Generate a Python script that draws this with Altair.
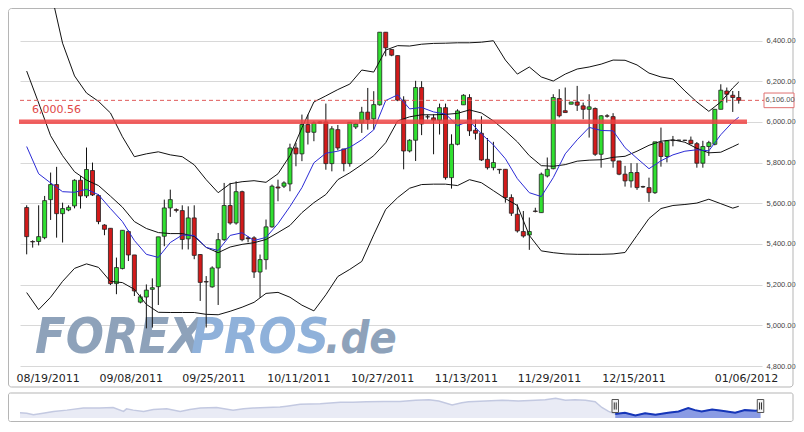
import json
import altair as alt
import pandas as pd

# ---------------- candle data (one value per trading day) ----------------
opens = [5579, 5412, 5412, 5431, 5618, 5692, 5549, 5567, 5587, 5713,
         5636, 5761, 5638, 5493, 5477, 5205, 5279, 5461, 5346, 5114,
         5139, 5177, 5190, 5438, 5577, 5569, 5564, 5425, 5528, 5348,
         5215, 5189, 5282, 5421, 5589, 5503, 5657, 5430, 5430, 5262,
         5323, 5484, 5680, 5684, 5695, 5872, 5843, 5987, 5949, 6000,
         6000, 5795, 5962, 5867, 5795, 5975, 5995, 6048, 6015, 6084,
         6441, 6356, 6326, 6107, 5857, 5910, 6169, 6025, 6020, 6008,
         6070, 5726, 5890, 6084, 6120, 5959, 5944, 5816, 5775, 5767,
         5767, 5628, 5546, 5461, 5444, 5562, 5554, 5734, 5770, 6115,
         6055, 6087, 6098, 6079, 6062, 6066, 5841, 6030, 6026, 5808,
         5743, 5710, 5751, 5682, 5677, 5652, 5898, 5830, 5910, 5910,
         5910, 5910, 5893, 5797, 5879, 5890, 6062, 6152, 6131, 6120]
closes = [5436, 5410, 5436, 5613, 5692, 5549, 5574, 5580, 5713, 5636,
          5766, 5641, 5510, 5472, 5205, 5284, 5467, 5346, 5169, 5140,
          5173, 5185, 5435, 5577, 5618, 5565, 5422, 5528, 5344, 5211,
          5213, 5282, 5421, 5589, 5503, 5657, 5421, 5426, 5262, 5323,
          5484, 5684, 5675, 5700, 5872, 5843, 5987, 5949, 5995, 5994,
          5795, 5966, 5872, 5795, 5998, 5990, 6048, 6011, 6085, 6441,
          6364, 6328, 6107, 5857, 5910, 6169, 5990, 6025, 6008, 6070,
          5726, 5890, 6054, 6131, 5956, 5944, 5813, 5775, 5800, 5765,
          5628, 5551, 5464, 5439, 5461, 5560, 5743, 5767, 6120, 6030,
          6046, 6098, 6082, 6062, 6074, 5841, 6030, 6028, 5808, 5743,
          5710, 5751, 5677, 5680, 5652, 5902, 5830, 5907, 5908, 5910,
          5909, 5893, 5797, 5879, 5898, 6062, 6156, 6136, 6120, 6106]
highs = [5590, 5418, 5590, 5636, 5751, 5779, 5603, 5590, 5718, 5734,
         5874, 5800, 5644, 5497, 5477, 5333, 5467, 5467, 5346, 5152,
         5201, 5231, 5435, 5618, 5667, 5575, 5590, 5585, 5590, 5350,
         5242, 5290, 5454, 5700, 5700, 5708, 5662, 5438, 5438, 5348,
         5520, 5692, 5716, 5708, 5893, 5897, 6036, 6036, 6003, 6003,
         6090, 5979, 5985, 5867, 5998, 5995, 6074, 6167, 6151, 6441,
         6441, 6356, 6326, 6126, 5915, 6202, 6200, 6035, 6038, 6090,
         6090, 5939, 6062, 6136, 6136, 6011, 6028, 5921, 5902, 5767,
         5767, 5644, 5595, 5562, 5530, 5578, 5751, 5825, 6136, 6161,
         6169, 6098, 6177, 6095, 6136, 6071, 6033, 6038, 6043, 5808,
         5784, 5797, 5797, 5686, 5726, 5902, 5972, 5907, 5931, 5912,
         5912, 5928, 5901, 5907, 5907, 6062, 6185, 6169, 6152, 6152]
lows = [5349, 5382, 5393, 5423, 5518, 5431, 5407, 5561, 5575, 5574,
        5626, 5636, 5497, 5443, 5198, 5153, 5275, 5316, 5144, 5108,
        4985, 4989, 5100, 5389, 5533, 5555, 5373, 5373, 5325, 5120,
        4989, 5185, 5100, 5415, 5495, 5495, 5413, 5408, 5233, 5136,
        5274, 5480, 5610, 5675, 5659, 5782, 5807, 5889, 5905, 5990,
        5765, 5757, 5860, 5757, 5780, 5965, 5946, 5962, 5962, 6080,
        6323, 6323, 6102, 5767, 5850, 5808, 5935, 6012, 5841, 5938,
        5716, 5672, 5885, 6084, 5931, 5913, 5808, 5766, 5762, 5745,
        5603, 5538, 5456, 5431, 5371, 5555, 5554, 5727, 5767, 6022,
        6046, 6087, 6054, 6013, 5923, 5833, 5775, 6021, 5775, 5738,
        5682, 5677, 5666, 5676, 5607, 5646, 5780, 5801, 5880, 5908,
        5907, 5890, 5775, 5775, 5833, 5885, 6062, 6095, 6049, 6090]

# ---------------- indicator lines (read every second day) ----------------
band_idx = list(range(0, 120, 2)) + [119]
upper = [6843, 6745, 6647, 6387, 6226, 6142, 6101, 6044, 5927, 5829,
         5843, 5853, 5838, 5829, 5789, 5716, 5652, 5696, 5706, 5711,
         5703, 5745, 5834, 5971, 6098, 6128, 6159, 6186, 6255, 6245,
         6353, 6375, 6373, 6382, 6386, 6387, 6389, 6389, 6392, 6399,
         6304, 6235, 6270, 6221, 6201, 6235, 6260, 6270, 6284, 6304,
         6303, 6280, 6240, 6221, 6211, 6152, 6098, 6052, 6098, 6167, 6196]
middle = [6250, 6093, 5932, 5834, 5755, 5714, 5687, 5635, 5581, 5510,
          5476, 5456, 5451, 5451, 5437, 5383, 5357, 5385, 5398, 5406,
          5422, 5456, 5491, 5554, 5603, 5643, 5716, 5750, 5790, 5834,
          5898, 6005, 6025, 6035, 6035, 6037, 6042, 6059, 6044, 6005,
          5956, 5902, 5834, 5785, 5782, 5790, 5807, 5812, 5814, 5826,
          5831, 5856, 5885, 5905, 5912, 5900, 5870, 5848, 5851, 5878, 5892]
lower = [5161, 5077, 5138, 5216, 5280, 5302, 5285, 5216, 5210, 5177,
         5103, 5064, 5063, 5063, 5063, 5054, 5052, 5069, 5089, 5113,
         5157, 5162, 5138, 5099, 5071, 5150, 5240, 5275, 5314, 5445,
         5570, 5628, 5674, 5692, 5694, 5694, 5687, 5716, 5701, 5662,
         5623, 5589, 5442, 5366, 5357, 5351, 5349, 5349, 5349, 5351,
         5358, 5442, 5525, 5574, 5589, 5594, 5601, 5620, 5598, 5576, 5585]
fast_ma = [5879, 5745, 5700, 5657, 5654, 5669, 5642, 5574, 5510, 5417,
           5349, 5334, 5407, 5444, 5442, 5383, 5368, 5442, 5455, 5417,
           5432, 5500, 5584, 5677, 5799, 5846, 5856, 5875, 5912, 5961,
           6105, 6133, 6064, 6071, 6049, 6039, 5981, 6005, 5941, 5887,
           5819, 5721, 5652, 5633, 5726, 5843, 5912, 5973, 5958, 5956,
           5873, 5821, 5770, 5809, 5838, 5856, 5863, 5858, 5937, 6000, 6023]

# ---------------- axis labels / levels ----------------
tick_pos = [3.5, 17.4, 31.2, 45.4, 59.4, 73.4, 87.3, 101.4, 120.2]
tick_labels = ["08/19/2011", "09/08/2011", "09/25/2011", "10/11/2011", "10/27/2011",
               "11/13/2011", "11/29/2011", "12/15/2011", "01/06/2012"]
y_ticks = [4800, 5000, 5200, 5400, 5600, 5800, 6000, 6200, 6400]
level = 6000.56
last_close = 6106.00

# ---------------- navigator (long history) ----------------
nav_t = [0, 0.9, 1.8, 3.1, 4.5, 6.3, 8.5, 10.7, 12.5, 13.9, 14.3, 15.2, 16.6, 17.9,
         19.7, 21.5, 22.8, 24.2, 26.4, 28.6, 30.0, 31.3, 33.1, 34.9, 35.8, 37.6,
         40.3, 42.1, 43.0, 44.7, 46.5, 48.8, 51.0, 53.1, 54.9, 56.2, 58.0, 59.3,
         60.2, 62.5, 64.7, 66.9, 69.2, 70.5, 71.9, 73.2, 74.5, 75.9, 77.2, 78.1,
         79.0, 79.9, 81.2, 82.6, 83.9, 85.3, 87.0, 88.4, 89.7, 90.6, 91.5, 92.9,
         94.2, 96.0, 97.3, 98.7, 99.4]
nav_v = [5595, 5506, 5238, 5506, 5819, 6042, 6400, 6400, 6489, 5819, 6266, 6042,
         5819, 6132, 6266, 5819, 6132, 6400, 6489, 6042, 6266, 6400, 6489, 6579,
         6713, 7026, 7115, 7294, 7383, 7383, 7473, 7518, 7518, 7741, 7830, 7607,
         6936, 7294, 7473, 7607, 7741, 7607, 7741, 7830, 8054, 7741, 7830, 7741,
         7473, 6489, 5819, 5372, 5595, 5148, 5506, 5238, 5595, 5819, 6400, 6042,
         5819, 6132, 5953, 5595, 6042, 5953, 6042]
sel_start = 79.9
sel_end = 99.4

# ---------------- frames ----------------
candles = pd.DataFrame({"i": list(range(len(opens))), "open": opens, "high": highs,
                        "low": lows, "close": closes})
candles["dir"] = ["up" if c >= o else "down" for o, c in zip(opens, closes)]
lines = pd.DataFrame({"i": band_idx, "upper": upper, "middle": middle,
                      "lower": lower, "ma": fast_ma})
lvl = pd.DataFrame({"v": [level], "label": [f"{level:,.2f}"]})
last = pd.DataFrame({"v": [last_close], "top": [last_close + 36], "bot": [last_close - 36],
                     "label": [f"{last_close:,.2f}"]})
nav = pd.DataFrame({"t": nav_t, "v": nav_v})
nav_sel = nav[nav["t"] >= sel_start]
handles = pd.DataFrame({"t": [sel_start, sel_end]})
one = pd.DataFrame({"a": [0]})

X = alt.Scale(domain=[-0.28, 122.05], nice=False, zero=False)
Y = alt.Scale(domain=[4800, 6560], nice=False, zero=False)

label_expr = f"{json.dumps(tick_labels)}[indexof({json.dumps(tick_pos)}, datum.value)]"
xax = alt.Axis(values=tick_pos, labelExpr=label_expr, grid=False, ticks=False, tickSize=0,
               domain=False, labelFont="DejaVu Sans", labelFontSize=11, labelColor="#222",
               labelPadding=6, labelFlush=False, labelOverlap=False, labelBound=False, title=None)
yax = alt.Axis(orient="right", values=y_ticks, format=",.2f", grid=True, gridColor="#d8d8d8",
               gridWidth=1, ticks=False, tickSize=0, domain=False, labelFont="Liberation Sans",
               labelFontSize=7.5, labelColor="#444", labelPadding=4, labelAlign="left",
               labelBound=False, labelFlush=False, labelOverlap=False, title=None)


def XI():
    return alt.X("i:Q", scale=X, axis=xax, title=None)


def YF(field):
    return alt.Y(field, scale=Y, axis=yax, title=None)


main_box = alt.Chart(one).mark_rect(fillOpacity=0, stroke="#b5b5b5", strokeWidth=1,
                                    cornerRadius=3).encode(
    x=alt.value(-11.5), x2=alt.value(773), y=alt.value(0.5), y2=alt.value(379))

wm_font = "Liberation Sans Narrow, DejaVu Sans Condensed, sans-serif"
wm = []
for txt, xpos, size, col in [("FOREX", 15, 50, "#8ea2ba"), ("PROS", 171, 50, "#8fb1da"),
                             (".de", 305, 45, "#8ea2ba")]:
    wm.append(alt.Chart(one).mark_text(text=txt, font=wm_font, fontSize=size, fontWeight="bold",
                                       fontStyle="italic", align="left", baseline="alphabetic",
                                       color=col).encode(x=alt.value(xpos), y=alt.value(345)))

wicks = alt.Chart(candles).mark_rule(color="#111", strokeWidth=1).encode(
    x=XI(), y=YF("low:Q"), y2="high:Q")
bodies = alt.Chart(candles).mark_bar(size=4, stroke="#222", strokeWidth=0.8).encode(
    x=XI(), y=YF("open:Q"), y2="close:Q",
    color=alt.Color("dir:N", scale=alt.Scale(domain=["up", "down"],
                                             range=["#30e030", "#d31a1a"]), legend=None))


def band(col, color):
    return alt.Chart(lines).mark_line(color=color, strokeWidth=1, clip=True).encode(
        x=XI(), y=YF(f"{col}:Q"))


level_rule = alt.Chart(lvl).mark_rule(color="#ef4545", strokeWidth=4.5, opacity=0.85).encode(
    y=YF("v:Q"), x=alt.value(-1), x2=alt.value(727))
level_text = alt.Chart(lvl).mark_text(align="left", baseline="middle", dy=-12, font="DejaVu Sans",
                                      fontSize=11, color="#e04848").encode(
    y=YF("v:Q"), x=alt.value(12), text="label:N")
last_rule = alt.Chart(last).mark_rule(color="#e05a5a", strokeDash=[4, 3], strokeWidth=1).encode(
    y=YF("v:Q"), x=alt.value(0), x2=alt.value(744))
last_box = alt.Chart(last).mark_rect(fill="white", stroke="#e07070", strokeWidth=1).encode(
    y=YF("top:Q"), y2="bot:Q", x=alt.value(744), x2=alt.value(774))
last_text = alt.Chart(last).mark_text(align="left", baseline="middle", font="Liberation Sans",
                                      fontSize=7.5, color="#555").encode(
    y=YF("v:Q"), x=alt.value(745.5), text="label:N")

main = alt.layer(main_box, *wm, wicks, bodies,
                 band("upper", "#111"), band("middle", "#111"), band("lower", "#111"),
                 band("ma", "#2b2bd6"),
                 level_rule, level_text, last_rule, last_box, last_text)

NX = alt.Scale(domain=[0, 100], range=[0, 745], nice=False, zero=False)
NY = alt.Scale(domain=[4700, 8450], range=[410, 388], nice=False, zero=False)

nav_box = alt.Chart(one).mark_rect(fill="white", stroke="#b5b5b5", strokeWidth=1,
                                   cornerRadius=2).encode(
    x=alt.value(-11.5), x2=alt.value(773), y=alt.value(385), y2=alt.value(413.5))
nav_all = alt.Chart(nav).mark_area(color="#dfe3f1", line={"color": "#c3c9e1", "strokeWidth": 1.5}).encode(
    x=alt.X("t:Q", scale=NX, axis=None), y=alt.Y("v:Q", scale=NY, axis=None), y2=alt.datum(4700))
nav_on = alt.Chart(nav_sel).mark_area(color="#8a9be4", opacity=1,
                                      line={"color": "#1535b8", "strokeWidth": 2}).encode(
    x=alt.X("t:Q", scale=NX, axis=None), y=alt.Y("v:Q", scale=NY, axis=None), y2=alt.datum(4700))
handle_body = alt.Chart(handles).mark_point(
    shape="M-0.5,-1L0.5,-1L0.5,1L-0.5,1Z", size=169, filled=True, fill="#f2f2f2",
    stroke="#555", strokeWidth=1, opacity=1).encode(
    x=alt.X("t:Q", scale=NX, axis=None), y=alt.value(398))
handle_grip = alt.Chart(handles).mark_point(
    shape="M-0.15,-0.55L-0.15,0.55M0.15,-0.55L0.15,0.55", size=169, filled=False,
    stroke="#333", strokeWidth=1, opacity=1).encode(
    x=alt.X("t:Q", scale=NX, axis=None), y=alt.value(398))

navigator = alt.layer(nav_box, nav_all, nav_on, handle_body, handle_grip)

chart = alt.layer(main, navigator).resolve_scale(x="independent", y="independent").properties(
    width=742, height=358, padding=0, background="white"
).configure_view(stroke=None, fill="white")

chart.save("out.html", embed_options={"renderer": "svg", "actions": False})
